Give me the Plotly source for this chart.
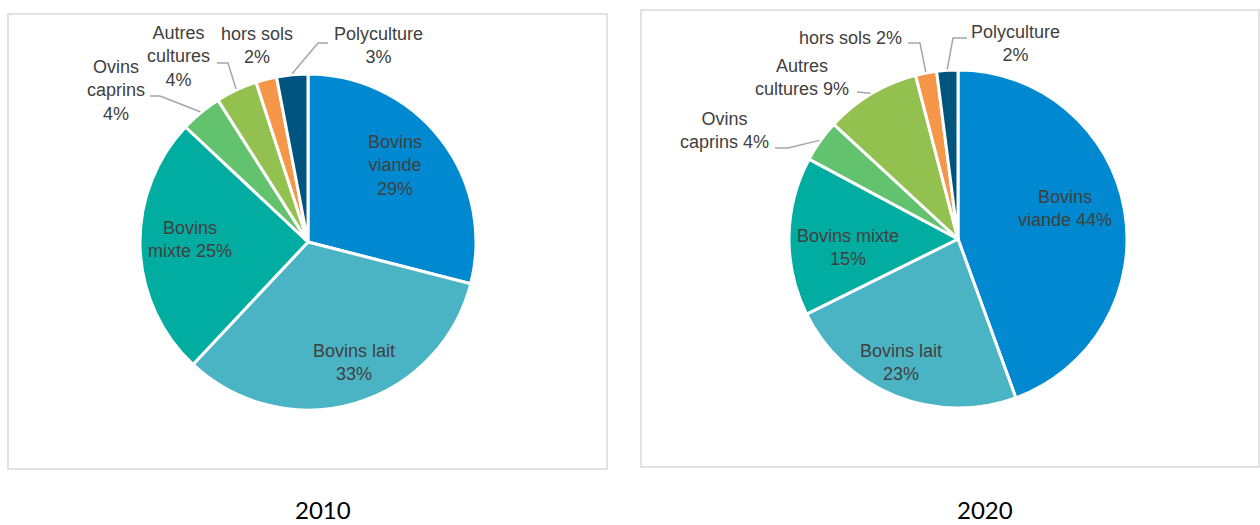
import math
import plotly.graph_objects as go

W, H = 1260, 525

categories = ["Bovins viande", "Bovins lait", "Bovins mixte", "Ovins caprins",
              "Autres cultures", "hors sols", "Polyculture"]
values_2010 = [29, 33, 25, 4, 4, 2, 3]
values_2020 = [44, 23, 15, 4, 9, 2, 2]
colors = ["#0089D0", "#4BB4C4", "#00ADA0", "#63C26E", "#92C150", "#F69648", "#005480"]
years = ["2010", "2020"]

# label line-break layouts (text only)
labels_2010 = ["Bovins<br>viande<br>{v}%", "Bovins lait<br>{v}%", "Bovins<br>mixte {v}%",
               "Ovins<br>caprins<br>{v}%", "Autres<br>cultures<br>{v}%", "hors sols<br>{v}%",
               "Polyculture<br>{v}%"]
labels_2020 = ["Bovins<br>viande {v}%", "Bovins lait<br>{v}%", "Bovins mixte<br>{v}%",
               "Ovins<br>caprins {v}%", "Autres<br>cultures {v}%", "hors sols {v}%",
               "Polyculture<br>{v}%"]


def px(x, y):
    return x / W, 1 - y / H


# pie geometry (pixels)
pies = [
    dict(cx=308, cy=242, r=168, values=values_2010, fmt=labels_2010,
         pos=[(395, 166), (354, 362), (190, 239), (116, 90), (178, 57), (257, 46), (378, 46)],
         elbows=[None, None, None, [(150, 96), (160, 96)], [(217, 63), (228, 63)], None,
                 [(328, 43), (318, 43)]],
         box=(8, 14, 607, 469), title_x=323),
    dict(cx=958, cy=239, r=169, values=values_2020, fmt=labels_2020,
         pos=[(1065, 208), (901, 362), (848, 248), (724, 131), (802, 77), (850, 38), (1015, 43)],
         elbows=[None, None, None, [(775, 148), (788, 148)], [(857, 92)],
                 [(908, 43), (920, 43)], [(967, 38), (953, 38)]],
         box=(641, 10, 1259, 467), title_x=985),
]

fig = go.Figure()
annotations = []
shapes = []
font_lbl = dict(family="Liberation Sans, Arial, sans-serif", size=18, color="#404040")

for p, year in zip(pies, years):
    cx, cy, r = p["cx"], p["cy"], p["r"]
    x0, y1 = px(cx - r, cy - r)
    x1, y0 = px(cx + r, cy + r)
    fig.add_trace(go.Pie(
        labels=categories, values=p["values"], sort=False, direction="clockwise",
        rotation=0, marker=dict(colors=colors, line=dict(color="white", width=3)),
        textinfo="none", domain=dict(x=[x0, x1], y=[y0, y1]), showlegend=False,
        hoverinfo="label+percent",
    ))
    bx0, by0, bx1, by1 = p["box"]
    shapes.append(dict(type="rect", xref="paper", yref="paper",
                       x0=bx0 / W, x1=bx1 / W, y0=1 - by1 / H, y1=1 - by0 / H,
                       line=dict(color="#D9D9D9", width=1.5), fillcolor="rgba(0,0,0,0)",
                       layer="below"))
    total = sum(p["values"])
    cum = 0
    for i, v in enumerate(p["values"]):
        mid = (cum + v / 2) / total * 2 * math.pi
        cum += v
        lx, ly = p["pos"][i]
        ax, ay = px(lx, ly)
        annotations.append(dict(x=ax, y=ay, xref="paper", yref="paper",
                                text=p["fmt"][i].format(v=v), showarrow=False,
                                xanchor="center", yanchor="middle", align="center",
                                borderpad=0, font=font_lbl))
        el = p["elbows"][i]
        if el:
            ex = cx + (r + 1) * math.sin(mid)
            ey = cy - (r + 1) * math.cos(mid)
            pts = el + [(ex, ey)]
            path = "M " + " L ".join(f"{a / W},{1 - b / H}" for a, b in pts)
            shapes.append(dict(type="path", xref="paper", yref="paper", path=path,
                               line=dict(color="#A6A6A6", width=1.5)))
    tx, ty = px(p["title_x"], 509)
    annotations.append(dict(x=tx, y=ty, xref="paper", yref="paper", text=year,
                            showarrow=False, xanchor="center", yanchor="middle",
                            borderpad=0,
                            font=dict(family="Lato, Open Sans, sans-serif", size=24,
                                      color="#000000")))

fig.update_layout(width=W, height=H, margin=dict(l=0, r=0, t=0, b=0),
                  paper_bgcolor="white", plot_bgcolor="white",
                  annotations=annotations, shapes=shapes)

fig.write_html("out.html")
